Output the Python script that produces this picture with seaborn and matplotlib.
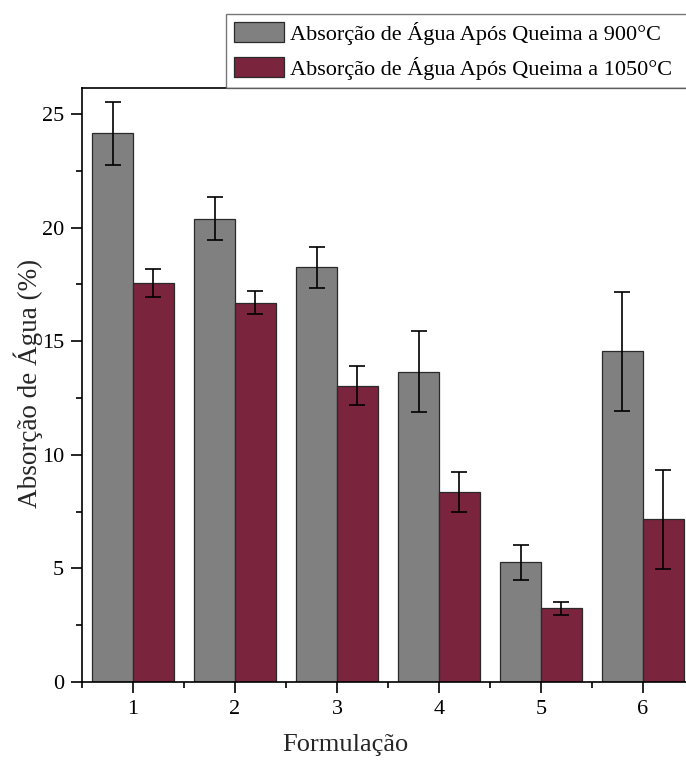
import matplotlib
matplotlib.use("Agg")
import matplotlib.pyplot as plt
from matplotlib.ticker import MultipleLocator
import numpy as np
import pandas as pd
import seaborn as sns

# Water absorption per formulation after firing at two temperatures
formulations = ["1", "2", "3", "4", "5", "6"]
abs_900 = [24.15, 20.40, 18.25, 13.65, 5.28, 14.55]
err_900 = [1.40, 0.95, 0.90, 1.78, 0.77, 2.60]
abs_1050 = [17.56, 16.70, 13.04, 8.36, 3.25, 7.17]
err_1050 = [0.60, 0.50, 0.85, 0.88, 0.28, 2.18]
series = ["Absorção de Água Após Queima a 900°C",
          "Absorção de Água Após Queima a 1050°C"]

df = pd.DataFrame({
    "Formulação": formulations * 2,
    "Absorção": abs_900 + abs_1050,
    "Erro": err_900 + err_1050,
    "Série": [series[0]] * 6 + [series[1]] * 6,
})

sns.set_style("ticks")
plt.rcParams["font.family"] = ["Liberation Serif", "DejaVu Serif"]
plt.rcParams["xtick.direction"] = "out"
plt.rcParams["ytick.direction"] = "out"

fig = plt.figure(figsize=(6.86, 7.65), dpi=100)
ax = fig.add_axes([0.1195, 0.1085, 0.892, 0.7765])

palette = {series[0]: "#808080", series[1]: "#7b243e"}
sns.barplot(data=df, x="Formulação", y="Absorção", hue="Série",
            palette=palette, errorbar=None, width=0.8, saturation=1,
            edgecolor="#2a2a2a", linewidth=0.9, ax=ax, legend=False)

# error bars at the centre of each bar
for container, s in zip(ax.containers, series):
    sub = df[df["Série"] == s]
    xs = [p.get_x() + p.get_width() / 2 for p in container.patches]
    ax.errorbar(xs, sub["Absorção"].values, yerr=sub["Erro"].values,
                fmt="none", ecolor="black", elinewidth=1.2,
                capsize=6, capthick=1.2, zorder=5)

ax.set_xlim(-0.5, 5.5)
ax.set_ylim(0, 26.15)
ax.yaxis.set_major_locator(MultipleLocator(5))
ax.yaxis.set_minor_locator(MultipleLocator(2.5))
ax.xaxis.set_minor_locator(MultipleLocator(0.5))
ax.tick_params(axis="both", which="major", length=8, width=1.2,
               labelsize=16, color="black", labelcolor="black", pad=5)
ax.tick_params(axis="both", which="minor", length=4.5, width=1.2, color="black")
for side in ["left", "bottom", "top"]:
    ax.spines[side].set_visible(True)
    ax.spines[side].set_color("black")
    ax.spines[side].set_linewidth(1.2)
ax.spines["right"].set_visible(False)

ax.set_xlabel("Formulação", fontsize=19)
ax.set_ylabel("Absorção de Água (%)", fontsize=19.5)
ax.xaxis.set_label_coords(0.431, -0.106)
ax.xaxis.label.set_va("center")
ax.yaxis.set_label_coords(-0.088, 0.503)
ax.yaxis.label.set_va("center")

handles = [plt.Rectangle((0, 0), 1, 1, facecolor=palette[s],
                         edgecolor="#2a2a2a", linewidth=0.9) for s in series]
# legend box runs on past the right edge of the figure
leg = fig.legend(handles, series, loc="upper left", mode="expand",
                 bbox_to_anchor=(0.3294, 0.9817, 0.72, 0.0), fontsize=16,
                 frameon=True, fancybox=False, borderaxespad=0,
                 handlelength=2.25, handleheight=1.0, handletextpad=0.3,
                 labelspacing=0.55, borderpad=0.35)
leg.get_frame().set_edgecolor("#555555")
leg.get_frame().set_linewidth(1.0)
for t in leg.get_texts():
    t.set_color("black")

fig.savefig("out.png", dpi=100)
